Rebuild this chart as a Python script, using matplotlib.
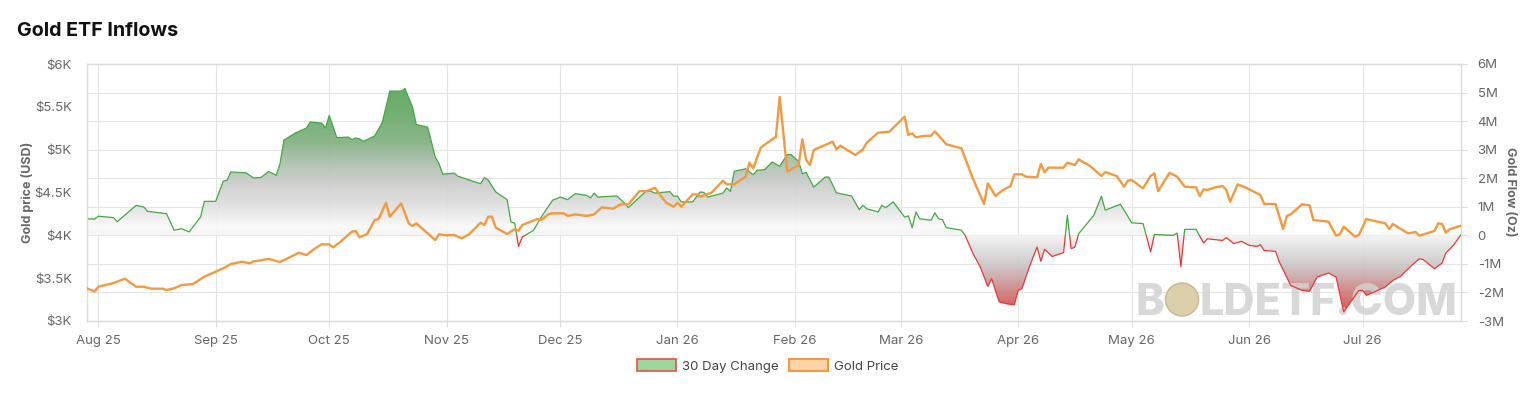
import numpy as np
import pandas as pd
import matplotlib
matplotlib.use("Agg")
import matplotlib.pyplot as plt
import matplotlib.dates as mdates
from matplotlib.colors import LinearSegmentedColormap
from matplotlib.patches import Patch, Ellipse, Rectangle
from matplotlib.path import Path

# gold price (USD / oz), left axis
price_dates = [
    "2025-07-29", "2025-07-31", "2025-08-01", "2025-08-05", "2025-08-08", "2025-08-11",
    "2025-08-13", "2025-08-15", "2025-08-18", "2025-08-19", "2025-08-21", "2025-08-23",
    "2025-08-26", "2025-08-29", "2025-09-01", "2025-09-03", "2025-09-05", "2025-09-08",
    "2025-09-10", "2025-09-11", "2025-09-15", "2025-09-18", "2025-09-23", "2025-09-25",
    "2025-09-27", "2025-09-29", "2025-10-01", "2025-10-02", "2025-10-04", "2025-10-07",
    "2025-10-08", "2025-10-09", "2025-10-11", "2025-10-13", "2025-10-14", "2025-10-16",
    "2025-10-17", "2025-10-20", "2025-10-22", "2025-10-23", "2025-10-24", "2025-10-28",
    "2025-10-29", "2025-10-30", "2025-11-01", "2025-11-03", "2025-11-05", "2025-11-07",
    "2025-11-10", "2025-11-11", "2025-11-12", "2025-11-13", "2025-11-14", "2025-11-17",
    "2025-11-19", "2025-11-20", "2025-11-21", "2025-11-25", "2025-11-26", "2025-11-28",
    "2025-11-29", "2025-12-02", "2025-12-03", "2025-12-05", "2025-12-08", "2025-12-10",
    "2025-12-12", "2025-12-15", "2025-12-17", "2025-12-19", "2025-12-22", "2025-12-24",
    "2025-12-26", "2025-12-29", "2025-12-31", "2026-01-01", "2026-01-02", "2026-01-05",
    "2026-01-06", "2026-01-07", "2026-01-10", "2026-01-13", "2026-01-14", "2026-01-16",
    "2026-01-19", "2026-01-20", "2026-01-21", "2026-01-23", "2026-01-26", "2026-01-27",
    "2026-01-28", "2026-01-30", "2026-02-02", "2026-02-03", "2026-02-04", "2026-02-05",
    "2026-02-06", "2026-02-08", "2026-02-11", "2026-02-12", "2026-02-13", "2026-02-17",
    "2026-02-19", "2026-02-20", "2026-02-23", "2026-02-26", "2026-03-02", "2026-03-03",
    "2026-03-04", "2026-03-05", "2026-03-07", "2026-03-09", "2026-03-10", "2026-03-13",
    "2026-03-17", "2026-03-20", "2026-03-23", "2026-03-24", "2026-03-26", "2026-03-28",
    "2026-03-30", "2026-03-31", "2026-04-02", "2026-04-03", "2026-04-06", "2026-04-07",
    "2026-04-08", "2026-04-09", "2026-04-13", "2026-04-14", "2026-04-16", "2026-04-17",
    "2026-04-20", "2026-04-23", "2026-04-24", "2026-04-27", "2026-04-29", "2026-04-30",
    "2026-05-01", "2026-05-04", "2026-05-06", "2026-05-07", "2026-05-08", "2026-05-11",
    "2026-05-13", "2026-05-15", "2026-05-18", "2026-05-19", "2026-05-20", "2026-05-21",
    "2026-05-23", "2026-05-25", "2026-05-26", "2026-05-27", "2026-05-29", "2026-05-31",
    "2026-06-04", "2026-06-05", "2026-06-08", "2026-06-10", "2026-06-11", "2026-06-12",
    "2026-06-15", "2026-06-17", "2026-06-18", "2026-06-22", "2026-06-24", "2026-06-25",
    "2026-06-26", "2026-06-29", "2026-06-30", "2026-07-02", "2026-07-05", "2026-07-07",
    "2026-07-08", "2026-07-09", "2026-07-13", "2026-07-15", "2026-07-16", "2026-07-20",
    "2026-07-21", "2026-07-22", "2026-07-23", "2026-07-24", "2026-07-27",
]
price_usd = [
    3380, 3345, 3400, 3443, 3494, 3400,
    3400, 3377, 3377, 3362, 3382, 3420,
    3432, 3517, 3575, 3615, 3665, 3692,
    3673, 3696, 3724, 3689, 3797, 3770,
    3840, 3895, 3895, 3860, 3926, 4043,
    4050, 3977, 4015, 4179, 4187, 4381,
    4218, 4373, 4140, 4109, 4140, 3984,
    3945, 4012, 4000, 4004, 3965, 4015,
    4148, 4121, 4218, 4218, 4090, 4015,
    4074, 4054, 4121, 4191, 4179, 4249,
    4257, 4257, 4226, 4245, 4226, 4245,
    4327, 4311, 4362, 4362, 4517, 4517,
    4556, 4381, 4334, 4381, 4334, 4478,
    4478, 4451, 4498, 4638, 4595, 4595,
    4685, 4848, 4782, 5023, 5120, 5150,
    5615, 4743, 4821, 5121, 4879, 4821,
    4996, 5035, 5093, 5004, 5047, 4938,
    5004, 5082, 5198, 5210, 5385, 5171,
    5190, 5144, 5160, 5163, 5214, 5063,
    5016, 4666, 4366, 4607, 4459, 4529,
    4576, 4712, 4712, 4685, 4677, 4833,
    4735, 4790, 4790, 4848, 4821, 4887,
    4809, 4693, 4739, 4693, 4568, 4638,
    4646, 4549, 4693, 4724, 4517, 4731,
    4685, 4568, 4560, 4459, 4537, 4529,
    4560, 4576, 4529, 4393, 4595, 4560,
    4471, 4366, 4366, 4074, 4226, 4245,
    4362, 4350, 4179, 4159, 3996, 4012,
    4101, 3984, 4004, 4191, 4159, 4140,
    4074, 4132, 4023, 4039, 3996, 4051,
    4140, 4132, 4031, 4070, 4113,
]

# 30 day change in ETF holdings (million oz), right axis
flow_dates = [
    "2025-07-29", "2025-07-31", "2025-08-01", "2025-08-05", "2025-08-06", "2025-08-11",
    "2025-08-13", "2025-08-14", "2025-08-19", "2025-08-21", "2025-08-23", "2025-08-25",
    "2025-08-28", "2025-08-29", "2025-09-01", "2025-09-03", "2025-09-04", "2025-09-05",
    "2025-09-09", "2025-09-11", "2025-09-13", "2025-09-15", "2025-09-17", "2025-09-18",
    "2025-09-19", "2025-09-22", "2025-09-25", "2025-09-26", "2025-09-29", "2025-09-30",
    "2025-10-01", "2025-10-03", "2025-10-06", "2025-10-07", "2025-10-08", "2025-10-09",
    "2025-10-10", "2025-10-13", "2025-10-15", "2025-10-17", "2025-10-20", "2025-10-21",
    "2025-10-23", "2025-10-24", "2025-10-27", "2025-10-29", "2025-10-30", "2025-10-31",
    "2025-11-03", "2025-11-04", "2025-11-10", "2025-11-11", "2025-11-12", "2025-11-14",
    "2025-11-17", "2025-11-18", "2025-11-19", "2025-11-20", "2025-11-21", "2025-11-24",
    "2025-11-26", "2025-11-29", "2025-12-01", "2025-12-03", "2025-12-05", "2025-12-08",
    "2025-12-09", "2025-12-10", "2025-12-11", "2025-12-16", "2025-12-18", "2025-12-19",
    "2025-12-24", "2025-12-25", "2025-12-26", "2025-12-30", "2025-12-31", "2026-01-01",
    "2026-01-02", "2026-01-05", "2026-01-07", "2026-01-08", "2026-01-09", "2026-01-13",
    "2026-01-14", "2026-01-15", "2026-01-16", "2026-01-19", "2026-01-21", "2026-01-22",
    "2026-01-24", "2026-01-26", "2026-01-28", "2026-01-30", "2026-01-31", "2026-02-02",
    "2026-02-03", "2026-02-04", "2026-02-06", "2026-02-09", "2026-02-10", "2026-02-12",
    "2026-02-16", "2026-02-18", "2026-02-19", "2026-02-20", "2026-02-23", "2026-02-24",
    "2026-02-25", "2026-02-27", "2026-03-02", "2026-03-03", "2026-03-04", "2026-03-05",
    "2026-03-06", "2026-03-09", "2026-03-10", "2026-03-11", "2026-03-12", "2026-03-13",
    "2026-03-17", "2026-03-18", "2026-03-20", "2026-03-22", "2026-03-24", "2026-03-25",
    "2026-03-27", "2026-03-29", "2026-03-31", "2026-04-01", "2026-04-02", "2026-04-04",
    "2026-04-06", "2026-04-07", "2026-04-08", "2026-04-10", "2026-04-13", "2026-04-14",
    "2026-04-15", "2026-04-16", "2026-04-17", "2026-04-21", "2026-04-23", "2026-04-24",
    "2026-04-28", "2026-04-29", "2026-05-01", "2026-05-04", "2026-05-06", "2026-05-07",
    "2026-05-12", "2026-05-13", "2026-05-14", "2026-05-15", "2026-05-18", "2026-05-20",
    "2026-05-21", "2026-05-25", "2026-05-26", "2026-05-28", "2026-05-30", "2026-06-01",
    "2026-06-03", "2026-06-04", "2026-06-05", "2026-06-08", "2026-06-09", "2026-06-12",
    "2026-06-15", "2026-06-17", "2026-06-19", "2026-06-22", "2026-06-24", "2026-06-26",
    "2026-06-30", "2026-07-01", "2026-07-02", "2026-07-05", "2026-07-07", "2026-07-09",
    "2026-07-11", "2026-07-14", "2026-07-16", "2026-07-17", "2026-07-20", "2026-07-22",
    "2026-07-23", "2026-07-25", "2026-07-27",
]
flow_moz = [
    0.58, 0.57, 0.67, 0.62, 0.48, 1.05,
    0.99, 0.84, 0.76, 0.18, 0.23, 0.12,
    0.64, 1.19, 1.19, 1.90, 1.93, 2.22,
    2.19, 2.01, 2.03, 2.24, 2.10, 2.51,
    3.33, 3.58, 3.76, 3.97, 3.93, 3.76,
    4.20, 3.42, 3.44, 3.35, 3.41, 3.38,
    3.29, 3.48, 3.95, 5.05, 5.05, 5.14,
    4.49, 3.88, 3.79, 2.74, 2.51, 2.14,
    2.18, 2.07, 1.81, 2.02, 1.93, 1.52,
    1.25, 0.47, 0.43, -0.39, -0.06, 0.18,
    0.64, 1.23, 1.34, 1.25, 1.46, 1.40,
    1.31, 1.48, 1.34, 1.38, 1.13, 0.97,
    1.58, 1.54, 1.48, 1.53, 1.37, 1.37,
    1.17, 1.17, 1.52, 1.50, 1.34, 1.48,
    1.66, 1.54, 2.24, 2.33, 2.12, 2.28,
    2.30, 2.57, 2.42, 2.83, 2.83, 2.59,
    2.16, 2.20, 1.69, 2.04, 2.04, 1.49,
    1.38, 0.90, 1.05, 0.93, 0.82, 1.05,
    0.97, 1.17, 0.64, 0.68, 0.27, 0.82,
    0.58, 0.53, 0.79, 0.58, 0.55, 0.27,
    0.18, 0.00, -0.62, -1.11, -1.79, -1.52,
    -2.33, -2.40, -2.43, -1.93, -1.87, -1.09,
    -0.41, -0.91, -0.49, -0.74, -0.61, 0.70,
    -0.47, -0.41, 0.06, 0.70, 1.37, 0.88,
    1.09, 0.88, 0.44, 0.41, -0.58, 0.03,
    0.00, 0.08, -1.09, 0.21, 0.21, -0.27,
    -0.12, -0.18, -0.08, -0.29, -0.21, -0.35,
    -0.39, -0.33, -0.53, -0.56, -0.93, -1.75,
    -1.93, -1.96, -1.46, -1.32, -1.46, -2.68,
    -1.93, -1.93, -2.10, -1.93, -1.81, -1.58,
    -1.44, -1.05, -0.82, -0.85, -1.17, -0.97,
    -0.62, -0.35, 0.02,
]

price_ticks = [3000, 3500, 4000, 4500, 5000, 5500, 6000]
flow_ticks = [-3, -2, -1, 0, 1, 2, 3, 4, 5, 6]

pd_dates = pd.to_datetime(price_dates)
fd_dates = pd.to_datetime(flow_dates)
flow = np.array(flow_moz)

plt.rcParams["font.family"] = ["Inter", "DejaVu Sans"]

fig = plt.figure(figsize=(15.37, 4.0), dpi=100)
fig.patch.set_facecolor("white")
ax = fig.add_axes([87 / 1537, 79 / 400, 1374 / 1537, 257 / 400])
ax2 = ax.twinx()
# flow on the right, price on the left (price drawn on top)
ax.yaxis.tick_right()
ax2.yaxis.tick_left()

x0 = mdates.date2num(fd_dates[0])
x1 = mdates.date2num(fd_dates[-1])

# gradient fill between flow curve and zero
stops = [
    (-3.0, (215, 55, 55)), (-2.3, (210, 100, 100)), (-1.8, (205, 140, 140)),
    (-1.1, (202, 195, 195)), (-0.4, (226, 226, 226)), (0.0, (244, 244, 244)),
    (0.3, (250, 250, 250)), (0.6, (238, 238, 238)), (1.2, (218, 218, 218)),
    (1.9, (200, 202, 200)), (2.6, (168, 190, 168)), (3.3, (128, 176, 128)),
    (4.4, (100, 168, 100)), (6.0, (80, 160, 80)),
]
cmap = LinearSegmentedColormap.from_list(
    "flowgrad", [((v + 3) / 9, tuple(c / 255 for c in rgb)) for v, rgb in stops])
grad = np.linspace(-3, 6, 500).reshape(-1, 1)
im = ax.imshow(grad, extent=[x0, x1, -3, 6], origin="lower", aspect="auto",
               cmap=cmap, vmin=-3, vmax=6, zorder=1, alpha=0.92,
               interpolation="bilinear")
poly = ax.fill_between(fd_dates, flow, 0, facecolor="none", edgecolor="none")
im.set_clip_path(Path.make_compound_path(*poly.get_paths()), ax.transData)

# flow line: green above zero, red below
up, = ax.plot(fd_dates, flow, color="#43a843", lw=0.9, zorder=3)
dn, = ax.plot(fd_dates, flow, color="#e53935", lw=0.9, zorder=3)
up.set_clip_path(Rectangle((x0, 0), x1 - x0, 10, transform=ax.transData))
dn.set_clip_path(Rectangle((x0, -10), x1 - x0, 10, transform=ax.transData))

# watermark, above the fill but under the lines
wm = dict(transform=ax.transAxes, fontsize=31, fontweight="heavy",
          color="#d2d2d2", alpha=0.85, va="baseline", zorder=2.5)
ax.text((1164 - 87) / 1374, 6 / 257, "B", ha="right", **wm)
ax.text((1200 - 87) / 1374, 6 / 257, "LDETF.COM", ha="left", **wm)
ax.add_patch(Ellipse(((1182 - 87) / 1374, (321 - 299.5) / 257), 33 / 1374, 33 / 257,
                     transform=ax.transAxes, facecolor="#dccfac",
                     edgecolor="#c8b88e", lw=1, zorder=2.6))

# gold price line
ax2.plot(pd_dates, price_usd, color="#f29a3f", lw=1.7, zorder=3)

ax.set_xlim(fd_dates[0], fd_dates[-1])
ax.set_ylim(-3, 6)
ax2.set_ylim(3000, 6000)

ax.xaxis.set_major_locator(mdates.MonthLocator())
ax.xaxis.set_major_formatter(mdates.DateFormatter("%b %y"))
ax.set_yticks(flow_ticks)
ax.set_yticklabels(["0" if v == 0 else f"{v}M" for v in flow_ticks])
ax2.set_yticks(price_ticks)
ax2.set_yticklabels([f"${v / 1000:g}K" for v in price_ticks])

ax.grid(True, color="#e4e4e4", lw=0.8)
ax.set_axisbelow(True)
ax.tick_params(axis="x", length=4, color="#dcdcdc", labelsize=9.5,
               labelcolor="#666666", pad=6)
ax.tick_params(axis="y", length=4, color="#dcdcdc", labelsize=9.5,
               labelcolor="#666666", pad=8)
ax2.tick_params(axis="y", length=0, labelsize=9.5, labelcolor="#666666", pad=11)
for a in (ax, ax2):
    for s in a.spines.values():
        s.set_color("#dcdcdc")
        s.set_linewidth(0.9)

fig.text(17 / 1537, 1 - 31 / 400, "Gold ETF Inflows", fontsize=14.2,
         fontweight="bold", color="#111111", ha="left", va="center")
fig.text(28 / 1537, 1 - 192 / 400, "Gold price (USD)", rotation=90, fontsize=9,
         fontweight="bold", color="#666666", ha="center", va="center")
fig.text(1510 / 1537, 1 - 192 / 400, "Gold Flow (Oz)", rotation=270, fontsize=9,
         fontweight="bold", color="#666666", ha="center", va="center")

handles = [
    Patch(facecolor="#9bd69b", edgecolor="#e55050", lw=1.2, label="30 Day Change"),
    Patch(facecolor="#ffd3a8", edgecolor="#f29a3f", lw=1.5, label="Gold Price"),
]
fig.legend(handles=handles, loc="center", bbox_to_anchor=(768 / 1537, 1 - 366 / 400),
           ncol=2, frameon=False, fontsize=9.5, labelcolor="#444444",
           handlelength=2.9, handleheight=0.95, handletextpad=0.5,
           columnspacing=0.8)

fig.savefig("out.png", dpi=100, facecolor="white")
